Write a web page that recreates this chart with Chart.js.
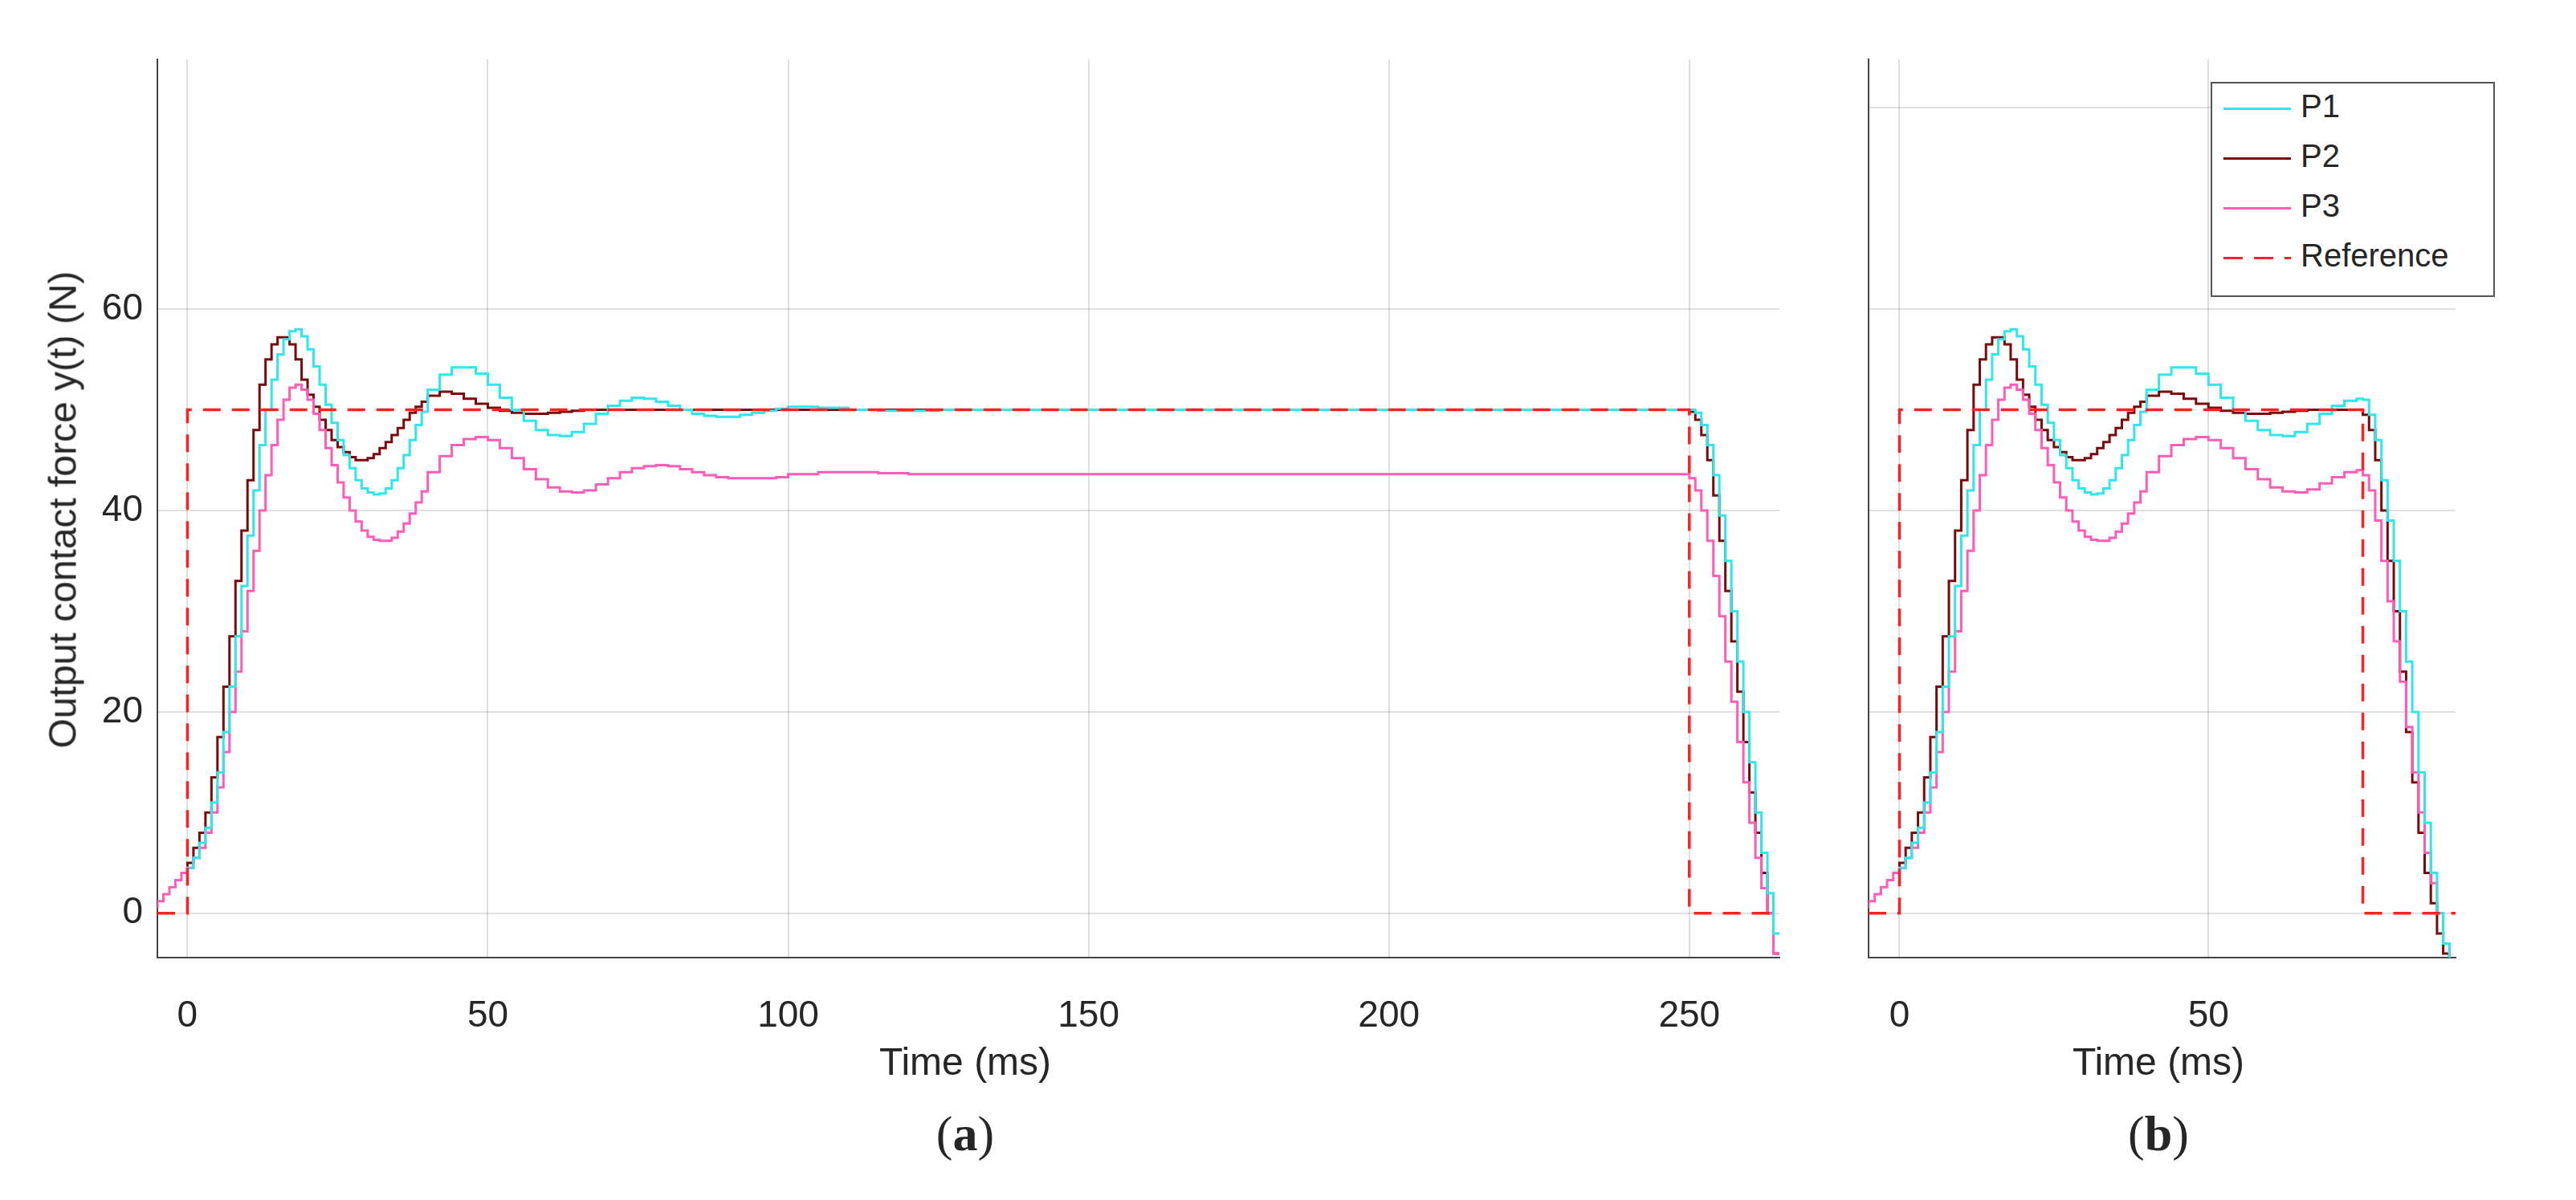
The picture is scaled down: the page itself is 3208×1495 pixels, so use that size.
<!DOCTYPE html>
<html>
<head>
<meta charset="utf-8">
<script src="https://cdn.jsdelivr.net/npm/chart.js@4"></script>
<style>
body { margin:0; background:#fff; font-family:"Liberation Sans", Arial, sans-serif; color:#262626; }
.box { position:absolute; }
.txt { position:absolute; white-space:nowrap; }
#legend { position:absolute; left:2753px; top:102px; width:350px; height:264px; border:2px solid #555; background:#fff; font-size:40px; }
#legend .row { position:absolute; left:14px; height:56px; }
#legend .sw { position:absolute; left:0; top:26px; width:84px; height:3px; }
#legend .lb { position:absolute; left:96px; top:2px; }
</style>
</head>
<body>
<div class="box" style="left:0;top:0;width:2230px;height:1495px"><canvas id="left"></canvas></div>
<div class="box" style="left:2230px;top:0;width:978px;height:1495px"><canvas id="right"></canvas></div>
<div class="txt" style="left:78px;top:635px;font-size:48px;transform:translate(-50%,-50%) rotate(-90deg)">Output contact force y(t) (N)</div>
<div class="txt" style="left:1202px;top:1322px;font-size:48px;transform:translate(-50%,-50%)">Time (ms)</div>
<div class="txt" style="left:2688px;top:1322px;font-size:48px;transform:translate(-50%,-50%)">Time (ms)</div>
<div class="txt" style="left:1202px;top:1412px;font-size:62px;font-family:'Liberation Serif',serif;transform:translate(-50%,-50%)">(<b>a</b>)</div>
<div class="txt" style="left:2688px;top:1412px;font-size:62px;font-family:'Liberation Serif',serif;transform:translate(-50%,-50%)">(<b>b</b>)</div>
<div id="legend">
  <div class="row" style="top:4px"><div class="sw" style="background:#2ee6ee"></div><div class="lb">P1</div></div>
  <div class="row" style="top:66px"><div class="sw" style="background:#7a0a0a"></div><div class="lb">P2</div></div>
  <div class="row" style="top:128px"><div class="sw" style="background:#ff5cb8"></div><div class="lb">P3</div></div>
  <div class="row" style="top:190px"><div class="sw" style="background:repeating-linear-gradient(90deg,#ff2020 0 24px,transparent 24px 38px)"></div><div class="lb">Reference</div></div>
</div>
<script>
// panel (a): long contact, 250 ms reference
var tLeft = [0,1,2,3,4,5,6,7,8,9,10,11,12,13,14,15,16,17,18,19,20,21,22,23,24,25,26,27,28,29,30,31,32,33,34,35,36,37,38,39,40,
  42,44,46,48,50,52,54,56,58,60,62,64,66,68,70,72,74,76,78,80,82,84,86,88,90,92,94,96,98,100,
  105,110,115,120,125,130,150,200,250,
  251,252,253,254,255,256,257,258,259,260,261,262,263,264,265];
var p1Left = [4,4.5,5.5,7,8.5,11,14,18,22.5,27.5,32.5,37.5,42,46.5,50,53,55.5,57,57.8,58,57.3,56,54.3,52.5,50.5,48.7,47,45.5,44.2,43,42.2,41.8,41.6,41.7,42.2,43,44.2,45.5,47,48.5,49.8,
  52,53.5,54.2,54.2,53.6,52.5,51.2,50,48.9,48,47.5,47.4,47.8,48.6,49.6,50.4,50.9,51.2,51.1,50.8,50.4,50,49.6,49.4,49.3,49.3,49.5,49.7,49.9,50.1,
  50.3,50.2,50,49.9,49.9,50,50,50,50,
  50,49.7,48.5,46.5,43.5,39.5,35,30,25,20,15,10,6,2,-2];
var p2Left = [4,5,6.5,8,10,13.5,17.5,22.5,27.5,33,38,43,48,52.5,55,56.5,57.2,57.2,56.5,55,53,51.5,50.3,49,48,47,46.3,45.8,45.3,45,45,45.2,45.6,46.2,46.8,47.5,48.2,49,49.7,50.3,50.8,
  51.4,51.8,51.6,51.1,50.6,50.2,49.9,49.7,49.6,49.6,49.7,49.8,49.9,50,50,50,50,50,50,50,50,50,50,50,50,50,50,50,50,50,
  50,50,50,50,50,50,50,50,50,
  49.8,49,47.5,45,41.5,37,32,27,22,17,12,8,4,0,-4];
var p3Left = [4,4.5,5.5,6.5,8,10,12.5,16,20,24,28,32,36,40,43.5,46.5,49,51,52.2,52.5,52,51,49.6,48,46.2,44.5,42.8,41.3,40,38.9,38,37.4,37.1,37,37,37.3,37.9,38.7,39.7,40.8,41.9,
  43.8,45.4,46.5,47.1,47.3,47,46.2,45.2,44.1,43.1,42.3,41.9,41.8,42,42.6,43.2,43.8,44.2,44.4,44.5,44.4,44.1,43.8,43.5,43.3,43.2,43.2,43.2,43.2,43.3,
  43.6,43.8,43.8,43.7,43.6,43.6,43.6,43.6,43.6,
  43.2,42,40,37,33.5,29.5,25,21,17,13,9,5.5,2.5,0,-4];
var refLeftX = [-5,0,0,250,250,265];
var refLeftY = [0,0,50,50,0,0];

// panel (b): short contact, 75 ms reference
var tRight = [0,1,2,3,4,5,6,7,8,9,10,11,12,13,14,15,16,17,18,19,20,21,22,23,24,25,26,27,28,29,30,31,32,33,34,35,36,37,38,39,40,
  42,44,46,48,50,52,54,56,58,60,62,64,66,68,70,72,74,
  75,76,77,78,79,80,81,82,83,84,85,86,87,88,89,90];
var p1Right = p1Left.slice(0,41).concat([52,53.5,54.2,54.2,53.6,52.5,51.2,50,48.9,48,47.5,47.4,47.8,48.6,49.6,50.4,50.9,
  51.1,51,49.5,47,43,39,35,30,25,20,14,9,4,0,-3,-5]);
var p2Right = p2Left.slice(0,41).concat([51.4,51.8,51.6,51.1,50.6,50.2,49.9,49.7,49.6,49.6,49.7,49.8,49.9,50,50,50,50,
  50,49.5,48,45,40,35,30,24,18,13,8,4,1,-2,-4,-5]);
var p3Right = p3Left.slice(0,41).concat([43.8,45.4,46.5,47.1,47.3,47,46.2,45.2,44.1,43.1,42.3,41.9,41.8,42.1,42.7,43.3,43.8,
  44,43.5,42,39,35,31,27,23,18.5,14,10,6,3,0,-3,-5]);
var refRightX = [-5,0,0,75,75,90];
var refRightY = [0,0,50,50,0,0];

// P3 lead-in before contact
var p3PreX = [-5,-4,-3,-2,-1];
var p3PreY = [0.5,1.2,1.9,2.6,3.3];

var yTicks = [0,20,40,60,80];

function pts(xs, ys) {
    return xs.map(function (x, i) { return {x: x, y: ys[i]}; });
}

function makePanel(id, cfg) {
    var ctx = document.getElementById(id).getContext('2d');
    var line = function (data, color, extra) {
        return Object.assign({data: data, borderColor: color, borderWidth: 3, pointRadius: 0, fill: false, stepped: 'after'}, extra || {});
    };
    new Chart(ctx, {
        type: 'line',
        data: {
            datasets: [
                line(pts(cfg.refX, cfg.refY), '#ff2020', {stepped: false, borderDash: [22, 14], borderWidth: 3.5}),
                line(pts(cfg.t, cfg.p1), '#2ee6ee'),
                line(pts(p3PreX, p3PreY).concat(pts(cfg.t, cfg.p3)), '#ff5cb8'),
                line(pts(cfg.t, cfg.p2), '#7a0a0a')
            ]
        },
        options: {
            responsive: false,
            animation: false,
            layout: {padding: {top: 74, right: cfg.padRight, left: 0, bottom: 0}},
            plugins: {legend: {display: false}, tooltip: {enabled: false}},
            scales: {
                x: {
                    type: 'linear', min: cfg.xMin, max: cfg.xMax,
                    afterBuildTicks: function (s) { s.ticks = cfg.xTicks.map(function (v) { return {value: v}; }); },
                    afterFit: function (s) { s.height = 1495 - 1193; },
                    grid: {color: 'rgba(0,0,0,0.12)', lineWidth: 2, drawTicks: false},
                    border: {color: '#444', width: 2},
                    ticks: {font: {size: 46, family: 'Liberation Sans'}, color: '#262626', padding: 46, maxRotation: 0}
                },
                y: {
                    type: 'linear', min: -4.4, max: 84.8,
                    afterBuildTicks: function (s) { s.ticks = cfg.yTicks.map(function (v) { return {value: v}; }); },
                    afterFit: function (s) { s.width = cfg.yWidth; },
                    grid: {color: 'rgba(0,0,0,0.12)', lineWidth: 2, drawTicks: false},
                    border: {color: '#444', width: 2},
                    ticks: {display: cfg.yLabels, font: {size: 46, family: 'Liberation Sans'}, color: '#262626', padding: 18}
                }
            }
        }
    });
}

var lc = document.getElementById('left'); lc.width = 2230; lc.height = 1495;
var rc = document.getElementById('right'); rc.width = 978; rc.height = 1495;

makePanel('left', {t: tLeft, p1: p1Left, p2: p2Left, p3: p3Left, refX: refLeftX, refY: refLeftY,
    xMin: -5, xMax: 265, xTicks: [0,50,100,150,200,250], yTicks: [0,20,40,60], yLabels: true, yWidth: 196, padRight: 14});
makePanel('right', {t: tRight, p1: p1Right, p2: p2Right, p3: p3Right, refX: refRightX, refY: refRightY,
    xMin: -5, xMax: 90, xTicks: [0,50], yTicks: yTicks, yLabels: false, yWidth: 97, padRight: 150});
</script>
</body>
</html>
